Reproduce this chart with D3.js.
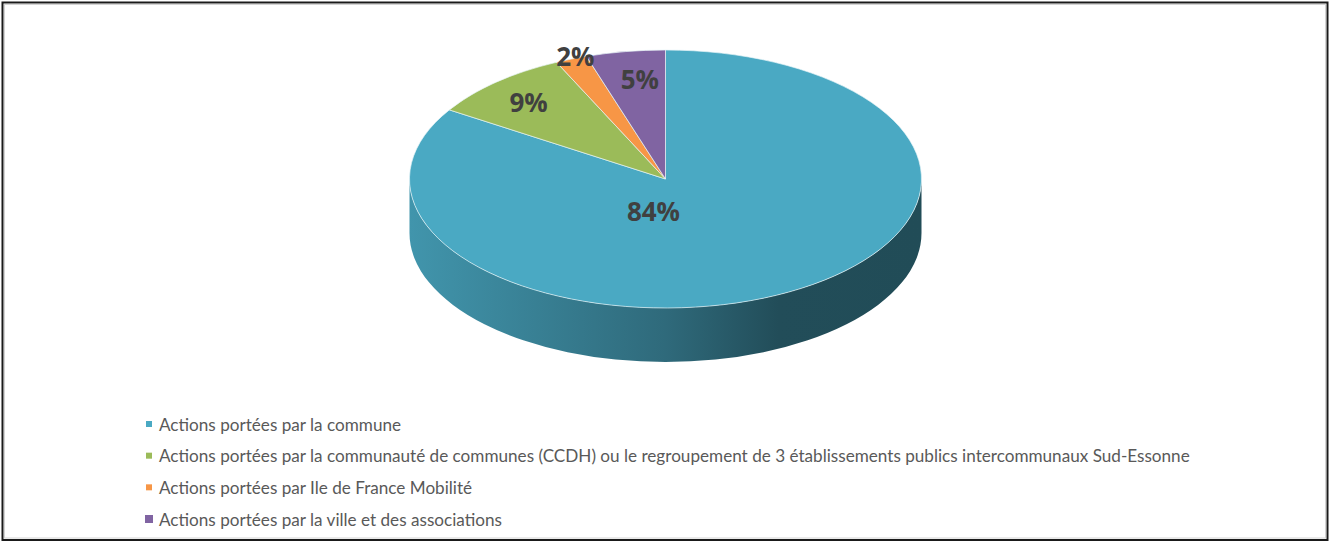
<!DOCTYPE html>
<html>
<head>
<meta charset="utf-8">
<script src="https://cdn.jsdelivr.net/npm/d3@7"></script>
<style>
  html, body { margin: 0; padding: 0; background: #ffffff; }
  svg { display: block; }
</style>
</head>
<body>
<svg id="chart" width="1330" height="542"></svg>
<script>
// Répartition des actions par porteur
const categories = [
  "Actions portées par la commune",
  "Actions portées par la communauté de communes (CCDH) ou le regroupement de 3 établissements publics intercommunaux Sud-Essonne",
  "Actions portées par Ile de France Mobilité",
  "Actions portées par la ville et des associations"
];
const values = [84, 9, 2, 5];
const valueLabels = ["84%", "9%", "2%", "5%"];
const colors = ["#4aa9c3", "#9bbb59", "#f79646", "#8064a2"];

const W = 1330, H = 542;
const svg = d3.select("#chart");

// chart frame
svg.append("rect")
  .attr("x", 2.5).attr("y", 2.5).attr("width", W - 5).attr("height", H - 4.5)
  .attr("fill", "#ffffff").attr("stroke", "#1a1a1a").attr("stroke-width", 2);
svg.append("rect")
  .attr("x", 4.5).attr("y", 4.5).attr("width", W - 9).attr("height", H - 8.5)
  .attr("fill", "none").attr("stroke", "#d4d4d4").attr("stroke-width", 1);

// tilted pie geometry
const cx = 665.5, cy = 179, rx = 256, ry = 129, depth = 54;
const pt = (a, dy = 0) => [cx + rx * Math.sin(a), cy - ry * Math.cos(a) + dy];

const arcs = d3.pie().sort(null).value(d => d).startAngle(0).endAngle(2 * Math.PI)(values);

// side wall shading
const defs = svg.append("defs");
arcs.forEach((d, i) => {
  const base = d3.color(colors[i]);
  const g = defs.append("linearGradient")
    .attr("id", "side" + i)
    .attr("gradientUnits", "userSpaceOnUse")
    .attr("x1", cx - rx).attr("y1", 0).attr("x2", cx + rx).attr("y2", 0);
  g.append("stop").attr("offset", 0).attr("stop-color", base.darker(0.35));
  g.append("stop").attr("offset", 0.5).attr("stop-color", base.darker(1.3));
  g.append("stop").attr("offset", 0.72).attr("stop-color", base.darker(2.2));
  g.append("stop").attr("offset", 1).attr("stop-color", base.darker(2.25));
});

const sides = svg.append("g");
arcs.forEach((d, i) => {
  const s0 = Math.max(d.startAngle, Math.PI / 2);
  const s1 = Math.min(d.endAngle, 3 * Math.PI / 2);
  if (s1 <= s0) return;
  const a = pt(s0), b = pt(s1), bb = pt(s1, depth), ab = pt(s0, depth);
  const large = (s1 - s0) > Math.PI ? 1 : 0;
  const path = `M${a}A${rx},${ry} 0 ${large} 1 ${b}L${bb}A${rx},${ry} 0 ${large} 0 ${ab}Z`;
  sides.append("path").attr("d", path).attr("fill", `url(#side${i})`);
});

// top faces
const tops = svg.append("g");
arcs.forEach((d, i) => {
  const a = pt(d.startAngle), b = pt(d.endAngle);
  const large = (d.endAngle - d.startAngle) > Math.PI ? 1 : 0;
  tops.append("path")
    .attr("d", `M${cx},${cy}L${a}A${rx},${ry} 0 ${large} 1 ${b}Z`)
    .attr("fill", colors[i])
    .attr("stroke", "#e8f4f7")
    .attr("stroke-opacity", 0.85)
    .attr("stroke-width", 0.8)
    .attr("stroke-linejoin", "round");
});

// value labels, placed as fractions of the ellipse radii
const labelPos = [[-0.047, 0.25], [-0.535, -0.6], [-0.352, -0.95], [-0.1, -0.775]];
svg.append("g").selectAll("text")
  .data(arcs)
  .join("text")
  .attr("x", (d, i) => cx + labelPos[i][0] * rx)
  .attr("y", (d, i) => cy + labelPos[i][1] * ry)
  .attr("text-anchor", "middle")
  .attr("dominant-baseline", "central")
  .attr("font-family", "'Open Sans', sans-serif")
  .attr("font-weight", "bold")
  .attr("font-size", 26)
  .attr("fill", "#404040")
  .text((d, i) => valueLabels[i]);

// legend
const legendY = d3.scalePoint().domain(d3.range(categories.length)).range([424, 519]);
const legend = svg.append("g");
const items = legend.selectAll("g").data(categories).join("g")
  .attr("transform", (d, i) => `translate(0,${legendY(i)})`);
items.append("rect")
  .attr("x", (d, i) => i === 3 ? 145 : 146)
  .attr("y", (d, i) => i === 3 ? -4 : -3)
  .attr("width", (d, i) => i === 3 ? 8 : 6)
  .attr("height", (d, i) => i === 3 ? 8 : 6)
  .attr("fill", (d, i) => colors[i]);
const texts = items.append("text")
  .attr("x", 159)
  .attr("y", 0)
  .attr("dominant-baseline", "central")
  .attr("font-family", "Lato, 'Open Sans', sans-serif")
  .attr("font-size", 16)
  .attr("fill", "#595959")
  .text(d => d);
// fit the font so the longest entry ends where the layout expects
const longest = texts.nodes()[1].getComputedTextLength();
const fs = 16 * (1191 - 159) / longest;
texts.attr("font-size", fs);
</script>
</body>
</html>
